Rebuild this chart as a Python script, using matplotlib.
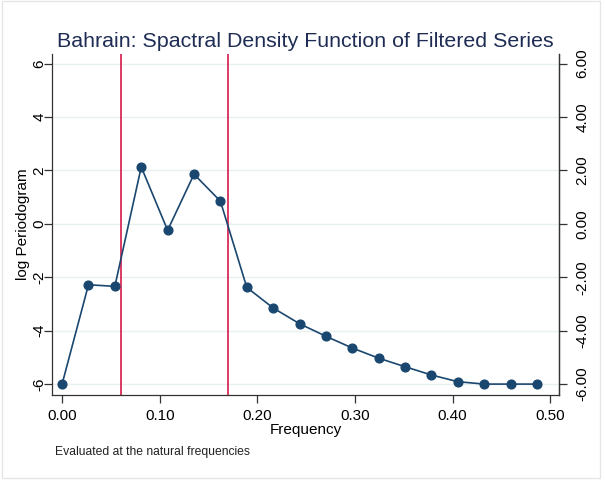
import numpy as np
import matplotlib
matplotlib.use("Agg")
import matplotlib.pyplot as plt
from matplotlib.patches import Rectangle

plt.rcParams['font.family'] = ['Liberation Sans', 'DejaVu Sans']

# Natural frequencies k/37 and log periodogram values
frequency = [k / 37 for k in range(19)]
log_periodogram = [-6.00, -2.28, -2.34, 2.13, -0.24, 1.86, 0.85, -2.38, -3.15,
                   -3.74, -4.21, -4.65, -5.03, -5.35, -5.66, -5.91, -6.00, -6.00, -6.00]
band_edges = [0.06, 0.17]
x_ticks = [0.0, 0.1, 0.2, 0.3, 0.4, 0.5]
y_ticks = [-6, -4, -2, 0, 2, 4, 6]

navy = '#1a476f'
axis_col = '#333333'
fig = plt.figure(figsize=(6.05, 4.8), dpi=100)
fig.patches.append(Rectangle((0.003, 0.005), 0.988, 0.993, transform=fig.transFigure,
                             fill=False, edgecolor='#e6e6e6', linewidth=1.0))
ax = fig.add_axes([0.086, 0.177, 0.838, 0.711])

for y in y_ticks:
    ax.axhline(y, color='#e8f0f2', linewidth=1.0, zorder=0)
for xv in band_edges:
    ax.axvline(xv, color='#d5194a', linewidth=1.2, zorder=1)

ax.plot(frequency, log_periodogram, color=navy, linewidth=1.2, marker='o',
        markersize=6.3, markerfacecolor=navy, markeredgecolor=navy, zorder=3)

ax.set_xlim(-0.0103, 0.509)
ax.set_ylim(-6.41, 6.37)
ax.set_xticks(x_ticks)
ax.set_xticklabels([f"{v:.2f}" for v in x_ticks], fontsize=11)
ax.set_yticks(y_ticks)
ax.set_yticklabels([str(v) for v in y_ticks], fontsize=11, rotation=90, va='center')
ax.spines['top'].set_visible(False)
for s in ['left', 'bottom', 'right']:
    ax.spines[s].set_color(axis_col)
    ax.spines[s].set_linewidth(0.9)
ax.tick_params(axis='x', direction='out', length=6, width=0.9, color=axis_col, pad=4)
ax.tick_params(axis='y', direction='out', length=6, width=0.9, color=axis_col, pad=-2)

ax2 = ax.twinx()
ax2.set_ylim(ax.get_ylim())
ax2.set_yticks(y_ticks)
ax2.set_yticklabels([f"{v:.2f}" for v in y_ticks], fontsize=11, rotation=90, va='center')
ax2.tick_params(direction='out', length=6, width=0.9, color=axis_col, pad=6)
for s in ['top', 'left', 'bottom']:
    ax2.spines[s].set_visible(False)
ax2.spines['right'].set_color(axis_col)
ax2.spines['right'].set_linewidth(0.9)

ax.set_xlabel('Frequency', fontsize=11, labelpad=0)
ax.set_ylabel('log Periodogram', fontsize=11, labelpad=2)
ax.set_title('Bahrain: Spactral Density Function of Filtered Series', fontsize=15.4,
             color='#1f2d55', pad=5)
fig.text(0.091, 0.052, 'Evaluated at the natural frequencies', fontsize=8.7, color='#222222')

fig.savefig('out.png', dpi=100, facecolor='white')
